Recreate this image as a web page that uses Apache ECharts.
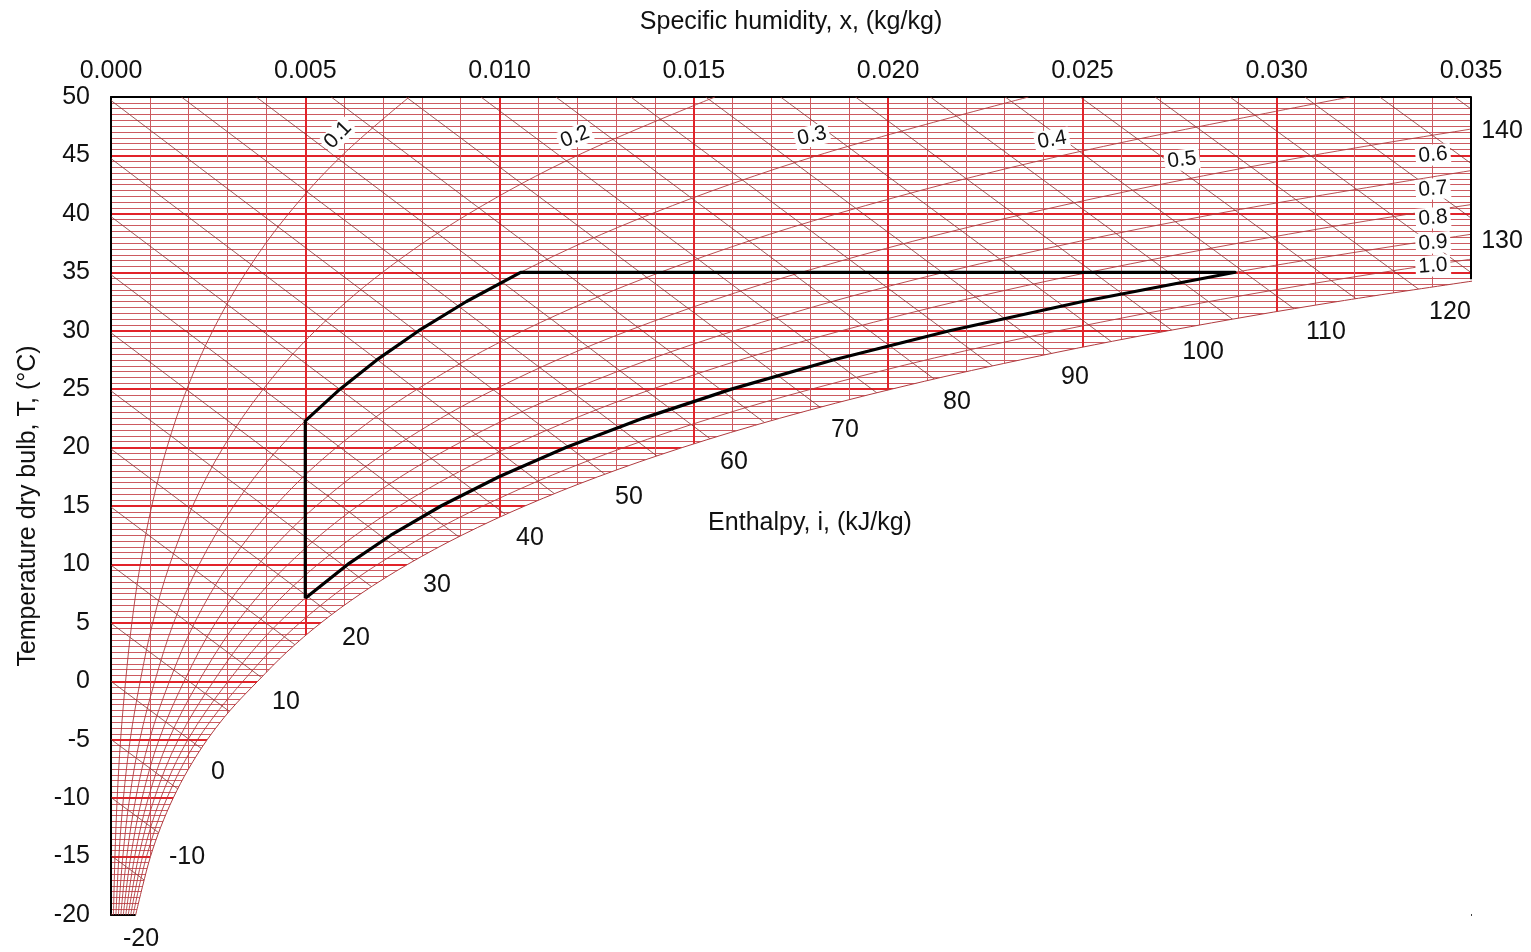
<!DOCTYPE html>
<html>
<head>
<meta charset="utf-8">
<script src="https://cdn.jsdelivr.net/npm/echarts@6/dist/echarts.min.js"></script>
<style>
html,body{margin:0;padding:0;background:#fff;}
#chart{width:1531px;height:952px;}
</style>
</head>
<body>
<div id="chart"></div>
<script>
// ---- Data ----
// Temperatures (°C) at which relative-humidity curves are tabulated
const rhTemps = [-20, -15, -10, -5, 0, 5, 10, 15, 20, 25, 30, 35, 40, 45, 50];
// Specific humidity x (kg/kg) on each relative-humidity curve
const rh01 = [0.0000634, 0.0001014, 0.0001596, 0.0002467, 0.0003754, 0.0005362, 0.0007549, 0.0010489, 0.0014393, 0.0019520, 0.0026181, 0.0034748, 0.0045667, 0.0059464, 0.0076761];
const rh02 = [0.0001267, 0.0002029, 0.0003193, 0.0004936, 0.0007513, 0.0010731, 0.0015116, 0.0021014, 0.0028854, 0.0039163, 0.0052583, 0.0069886, 0.0092008, 0.012008, 0.015544];
const rh03 = [0.0001901, 0.0003044, 0.0004790, 0.0007407, 0.0011276, 0.0016112, 0.0022702, 0.0031573, 0.0043381, 0.0058930, 0.0079209, 0.0105421, 0.013904, 0.018187, 0.023611];
const rh04 = [0.0002535, 0.0004059, 0.0006388, 0.0009880, 0.0015044, 0.0021500, 0.0030305, 0.0042170, 0.0057976, 0.0078822, 0.0106062, 0.0141360, 0.018678, 0.024488, 0.031885];
const rh05 = [0.0003168, 0.0005075, 0.0007987, 0.0012354, 0.0018817, 0.0026899, 0.0037928, 0.0052801, 0.0072640, 0.0098842, 0.0133146, 0.0177710, 0.023524, 0.030914, 0.040373];
const rh06 = [0.0003802, 0.0006091, 0.0009588, 0.0014830, 0.0022594, 0.0032307, 0.0045569, 0.0063469, 0.0087372, 0.0118988, 0.0160462, 0.0214477, 0.028444, 0.037469];
const rh07 = [0.0004436, 0.0007107, 0.0011188, 0.0017309, 0.0026375, 0.0037723, 0.0053229, 0.0074174, 0.0102173, 0.0139264, 0.0188014, 0.0251670, 0.033440, 0.044158];
const rh08 = [0.0005069, 0.0008124, 0.0012790, 0.0019790, 0.0030162, 0.0043150, 0.0060908, 0.0084915, 0.0117044, 0.0159669, 0.0215805, 0.0289295, 0.038512];
const rh09 = [0.0005703, 0.0009140, 0.0014392, 0.0022272, 0.0033952, 0.0048586, 0.0068604, 0.0095693, 0.0131985, 0.0180206, 0.0243838, 0.0327360, 0.043665];
// Saturation curve (relative humidity 1.0)
const satTemps = [-20, -17.5, -15, -12.5, -10, -7.5, -5, -2.5, 0, 2.5, 5, 7.5, 10, 12.5, 15, 17.5, 20, 22.5, 25, 27.5, 30, 32.5, 35];
const satX = [0.0006342, 0.0008157, 0.0010158, 0.0012770, 0.0015996, 0.0019947, 0.0024757, 0.0030629, 0.0037748, 0.0045238, 0.0054031, 0.0064316, 0.0076321, 0.0090285, 0.0106507, 0.0125304, 0.0146997, 0.0172032, 0.0200875, 0.0234022, 0.0272117, 0.0315742, 0.0365873];

// Enthalpy lines (kJ/kg): start and end points (x, T)
const enthalpy   = [-20, -15, -10, -5, 0, 5, 10, 15, 20, 25, 30, 35, 40, 45, 50, 55, 60, 65, 70, 75, 80, 85, 90, 95, 100, 105, 110, 115, 120, 125, 130, 135, 140];
const enthStartX = [0, 0, 0, 0, 0, 0, 0, 0, 0, 0, 0, 0, 0, 0, 0, 0.001812, 0.003739, 0.005667, 0.007595, 0.009522, 0.011450, 0.013377, 0.015305, 0.017232, 0.019160, 0.021087, 0.023015, 0.024942, 0.026870, 0.028797, 0.030725, 0.032652, 0.034580];
const enthStartT = [-19.88, -14.91, -9.94, -4.97, 0, 4.97, 9.94, 14.91, 19.88, 24.85, 29.82, 34.79, 39.76, 44.73, 49.70, 50, 50, 50, 50, 50, 50, 50, 50, 50, 50, 50, 50, 50, 50, 50, 50, 50, 50];
const enthEndX   = [0.0000487, 0.001468, 0.001842, 0.002331, 0.002940, 0.003651, 0.004477, 0.005343, 0.006292, 0.007318, 0.008405, 0.009553, 0.010767, 0.012022, 0.013316, 0.014658, 0.016031, 0.017432, 0.018868, 0.020318, 0.021806, 0.023304, 0.024824, 0.026367, 0.027912, 0.029491, 0.031073, 0.032661, 0.034277, 0.035, 0.035, 0.035, 0.035];
const enthEndT   = [-20, -18.51, -14.47, -10.72, -7.27, -4.08, -1.18, 1.61, 4.19, 6.57, 8.79, 10.85, 12.74, 14.52, 16.20, 17.75, 19.22, 20.61, 21.91, 23.17, 24.33, 25.46, 26.53, 27.54, 28.54, 29.45, 30.35, 31.23, 32.04, 34.978, 39.646, 44.314, 48.982];

// Enthalpy labels
const enthLabelText = ['-20', '-10', '0', '10', '20', '30', '40', '50', '60', '70', '80', '90', '100', '110', '120', '130', '140'];
const enthLabelX = [0.000772, 0.001956, 0.002754, 0.004504, 0.006305, 0.008390, 0.010783, 0.013331, 0.016033, 0.018890, 0.021772, 0.024809, 0.028103, 0.031268, 0.034459, 0.035798, 0.035798];
const enthLabelT = [-22.05, -15.04, -7.76, -1.77, 3.71, 8.24, 12.26, 15.77, 18.77, 21.50, 23.90, 26.04, 28.18, 29.89, 31.60, 37.68, 47.09];

// Relative humidity labels
const rhLabelText = ['0.1', '0.2', '0.3', '0.4', '0.5', '0.6', '0.7', '0.8', '0.9', '1.0'];
const rhLabelX = [0.005842, 0.011941, 0.018040, 0.024217, 0.027562, 0.034022, 0.034022, 0.034022, 0.034022, 0.034022];
const rhLabelT = [46.75, 46.58, 46.66, 46.32, 44.61, 45.04, 42.13, 39.65, 37.51, 35.54];
const rhLabelRot = [46, 21, 13, 10, 7, 5, 5, 5, 5, 4];

// Comfort zone outline (x, T)
const comfortX = [0.005, 0.005, 0.0058930, 0.0068405, 0.0079209, 0.0091473, 0.0105421, 0.0289295, 0.0250056, 0.0215805, 0.0185819, 0.0159669, 0.0136867, 0.0117044, 0.0099840, 0.0084915, 0.0072018, 0.0060908, 0.005];
const comfortT = [7.11, 22.29, 25, 27.5, 30, 32.5, 35, 35, 32.5, 30, 27.5, 25, 22.5, 20, 17.5, 15, 12.5, 10, 7.11];

// Right frame of the plot: from the saturation curve up to the top
const rightFrameX = [0.035, 0.035];
const rightFrameT = [34.4, 50];

// Axis ticks
const xTicks = { min: 0, max: 0.035, step: 0.005 };
const yTicks = { min: -20, max: 50, step: 5 };

// ---- Chart ----
const FONT = 'Liberation Sans, Arial, sans-serif';
const TXT = '#111111';
const majorRed = '#e2232a';
const minorRed = '#cc5a60';
const enthColor = '#853434';
const rhColor = '#b03c40';

const series = [];

enthalpy.forEach((h, i) => {
  series.push({
    type: 'line', z: 2, silent: true, showSymbol: false, symbol: 'none',
    lineStyle: { color: enthColor, width: 0.8 },
    data: [[enthStartX[i], enthStartT[i]], [enthEndX[i], enthEndT[i]]]
  });
});

// white cover below the saturation curve (hides grid and enthalpy lines there)
series.push({
  type: 'line', z: 3, silent: true, showSymbol: false, symbol: 'none', smooth: 0.35, clip: false,
  lineStyle: { width: 0, opacity: 0 },
  areaStyle: { color: '#ffffff', opacity: 1, origin: yTicks.min - 0.35 },
  data: satTemps.map((t, j) => [satX[j], t])
});
// saturation curve line
series.push({
  type: 'line', z: 4, silent: true, showSymbol: false, symbol: 'none', smooth: 0.35,
  lineStyle: { color: rhColor, width: 1 },
  data: satTemps.map((t, j) => [satX[j], t])
});

[rh01, rh02, rh03, rh04, rh05, rh06, rh07, rh08, rh09].forEach(arr => {
  series.push({
    type: 'line', z: 4, silent: true, showSymbol: false, symbol: 'none', smooth: 0.35,
    lineStyle: { color: rhColor, width: 0.9 },
    data: arr.map((x, j) => [x, rhTemps[j]])
  });
});

series.push({
  type: 'line', z: 5, silent: true, showSymbol: false, symbol: 'none', clip: false,
  lineStyle: { color: '#000', width: 2 },
  data: rightFrameX.map((x, j) => [x, rightFrameT[j]])
});

series.push({
  type: 'line', z: 6, silent: true, showSymbol: false, symbol: 'none',
  lineStyle: { color: '#000', width: 3.2, join: 'round' },
  data: comfortX.map((x, j) => [x, comfortT[j]])
});

series.push({
  type: 'scatter', z: 8, silent: true, clip: false, symbolSize: 1,
  itemStyle: { color: 'rgba(255,255,255,0)', opacity: 1 },
  label: { show: true, position: 'inside', fontFamily: FONT, fontSize: 21, color: TXT, textBorderWidth: 0,
           backgroundColor: '#fff', padding: [0, 3, 0, 3], formatter: p => p.name },
  data: rhLabelText.map((t, j) => ({ name: t, value: [rhLabelX[j], rhLabelT[j]], label: { rotate: rhLabelRot[j] } }))
});

series.push({
  type: 'scatter', z: 8, silent: true, clip: false, symbolSize: 1,
  itemStyle: { color: 'rgba(255,255,255,0)', opacity: 1 },
  label: { show: true, position: 'inside', fontFamily: FONT, fontSize: 25, color: TXT, textBorderWidth: 0, formatter: p => p.name },
  data: enthLabelText.map((t, j) => ({ name: t, value: [enthLabelX[j], enthLabelT[j]] }))
    .concat([{ name: 'Enthalpy, i, (kJ/kg)', value: [0.017989, 13.55] }])
});

const chart = echarts.init(document.getElementById('chart'), null, { renderer: 'canvas' });
chart.setOption({
  animation: false,
  backgroundColor: '#fff',
  grid: { left: 111, right: 60, top: 97, bottom: 37, containLabel: false },
  xAxis: [{
    type: 'value', position: 'top', min: xTicks.min, max: xTicks.max, interval: xTicks.step,
    name: 'Specific humidity, x, (kg/kg)', nameLocation: 'middle', nameGap: 62,
    nameTextStyle: { fontFamily: FONT, fontSize: 25, color: TXT },
    axisLine: { show: true, onZero: false, lineStyle: { color: '#000', width: 2 } },
    axisTick: { show: false },
    axisLabel: { fontFamily: FONT, fontSize: 25, color: TXT, margin: 13, formatter: v => v.toFixed(3) },
    splitLine: { show: true, showMaxLine: false, lineStyle: { color: majorRed, width: 2 } },
    minorTick: { show: false, splitNumber: 5 },
    minorSplitLine: { show: true, lineStyle: { color: minorRed, width: 1 } }
  }, {
    type: 'value', position: 'bottom', min: xTicks.min, max: xTicks.max, interval: xTicks.step,
    axisLine: { show: true, onZero: false, lineStyle: { color: '#000', width: 2 } },
    axisTick: { show: false }, axisLabel: { show: false }, splitLine: { show: false }
  }],
  yAxis: [{
    type: 'value', position: 'left', min: yTicks.min, max: yTicks.max, interval: yTicks.step,
    name: 'Temperature dry bulb, T, (°C)', nameLocation: 'middle', nameGap: 70,
    nameTextStyle: { fontFamily: FONT, fontSize: 25, color: TXT },
    axisLine: { show: true, onZero: false, lineStyle: { color: '#000', width: 2 } },
    axisTick: { show: false },
    axisLabel: { fontFamily: FONT, fontSize: 25, color: TXT, margin: 21 },
    splitLine: { show: true, lineStyle: { color: majorRed, width: 2 } },
    minorTick: { show: false, splitNumber: 10 },
    minorSplitLine: { show: true, lineStyle: { color: minorRed, width: 1 } }
  }],
  series: series
});
</script>
</body>
</html>
